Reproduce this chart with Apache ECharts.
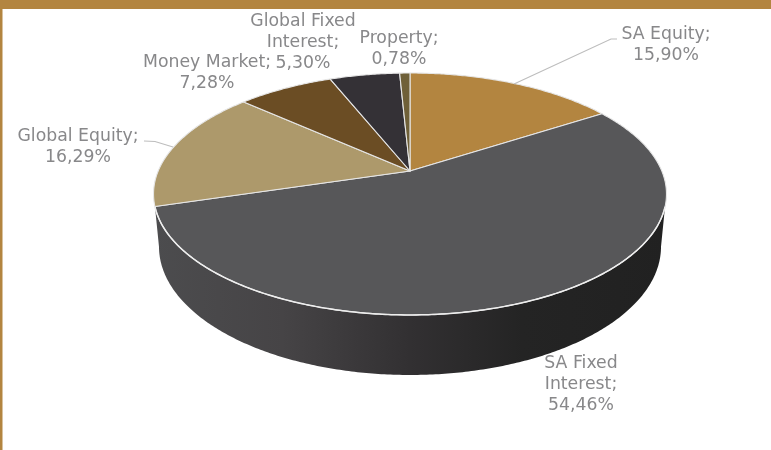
<!DOCTYPE html>
<html><head><meta charset="utf-8">
<style>html,body{margin:0;padding:0;background:#fff}#c{width:771px;height:450px}</style>
<script src="https://cdn.jsdelivr.net/npm/echarts@6/dist/echarts.min.js"></script>
</head><body><div id="c"></div>
<script>
var categories = ['SA Equity','SA Fixed Interest','Global Equity','Money Market','Global Fixed Interest','Property'];
var shares = [15.90,54.46,16.29,7.28,5.30,0.78];
var labelLines = [['SA Equity;','15,90%'],['SA Fixed','Interest;','54,46%'],['Global Equity;','16,29%'],['Money Market;','7,28%'],['Global Fixed','Interest;','5,30%'],['Property;','0,78%']];
var sliceColors = ['#b38540','#575759','#ad996b','#6b4d24','#343136','#6f6038'];

var view = {cx:410, cy:171, A:251.8, B:116.6, k:0.19, m:0.021, H:52.9, frontCos:-0.29};
var labelAt = [[666,45],[581,385],[78,147],[207,73],[303,43],[399,49]];
var leaders = [[[514,84],[611,39],[617,39]],null,[[173,147],[155,141.5],[144,141]],null,null,null];

function project(theta, depth){
  var u=Math.sin(theta), v=Math.cos(theta);
  var w=1+view.k*v+(depth?view.m:0);
  return [view.cx+view.A*u/w, view.cy+(-view.B*v+(depth?view.H:0))/w];
}
function arc(a,b,depth){
  var pts=[], n=Math.max(2,Math.ceil((b-a)/0.01));
  for(var i=0;i<=n;i++) pts.push(project(a+(b-a)*i/n,depth));
  return pts;
}
var cum=0;
var rows=shares.map(function(s,i){var r=[cum,s,i];cum+=s;return r;});
var total=cum;

function renderItem(params, api){
  var i=api.value(2);
  var a=api.value(0)/total*2*Math.PI, b=(api.value(0)+api.value(1))/total*2*Math.PI;
  var children=[], edge=null;
  // the side wall is seen under the slice that covers the front of the disc
  if(a<Math.PI && b>Math.PI){
    var t=Math.acos(view.frontCos), sil=Math.acos(-view.k/(1+view.m));
    var top=arc(t,2*Math.PI-t,false), bot=arc(sil,2*Math.PI-sil,true).reverse();
    children.push({type:'polygon',shape:{points:top.concat(bot)},
      style:{fill:new echarts.graphic.LinearGradient(155,0,665,0,[
        {offset:0,color:'#4c4c4e'},{offset:0.25,color:'#464446'},{offset:0.5,color:'#323032'},{offset:0.72,color:'#242424'},{offset:1,color:'#212121'}],true)}});
    edge=top;
  }
  var pts=[[view.cx,view.cy]].concat(arc(a,b,false));
  children.push({type:'polygon',shape:{points:pts},style:{fill:sliceColors[i],stroke:'#e6e6e6',lineWidth:1.1,lineJoin:'round'}});
  if(edge) children.push({type:'polyline',shape:{points:edge},style:{fill:null,stroke:'#eeeeee',lineWidth:1.5}});
  return {type:'group',children:children};
}
function renderLabel(params, api){
  var i=api.value(2);
  var children=[{type:'text',x:labelAt[i][0],y:labelAt[i][1],
    style:{text:labelLines[i].join('\n'),font:'17.3px "DejaVu Sans"',fill:'#88888a',align:'center',verticalAlign:'middle',lineHeight:21}}];
  if(leaders[i]) children.push({type:'polyline',shape:{points:leaders[i]},style:{fill:null,stroke:'#bdbdbd',lineWidth:1.1}});
  return {type:'group',children:children};
}
var chart=echarts.init(document.getElementById('c'),null,{renderer:'canvas'});
chart.setOption({
  animation:false,
  backgroundColor:'#ffffff',
  graphic:[
    {type:'rect',shape:{x:0,y:0,width:771,height:9},style:{fill:'#b38540'}},
    {type:'rect',shape:{x:0,y:0,width:2.5,height:450},style:{fill:'#b38540'}}
  ],
  series:[
    {type:'custom',coordinateSystem:'none',data:rows,renderItem:renderItem,silent:true,z:2},
    {type:'custom',coordinateSystem:'none',data:rows,renderItem:renderLabel,silent:true,z:3}
  ]
});
</script></body></html>
